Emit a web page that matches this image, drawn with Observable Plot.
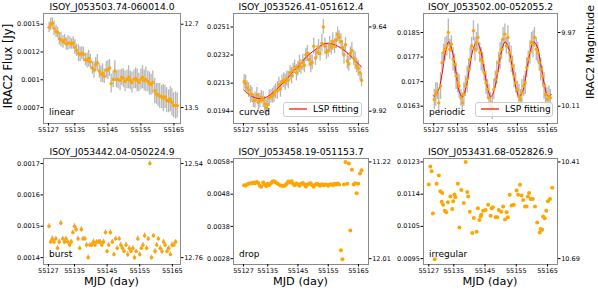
<!DOCTYPE html>
<html><head><meta charset="utf-8">
<script src="https://cdn.jsdelivr.net/npm/d3@7"></script>
<script src="https://cdn.jsdelivr.net/npm/@observablehq/plot@0.6"></script>
<style>
body{margin:0;background:#fff;}
#chart{position:relative;width:598px;height:293px;overflow:hidden;background:#fff;font-family:"DejaVu Sans",sans-serif;}
.cell{position:absolute;}
.lbl{position:absolute;white-space:nowrap;color:#000;font-family:"DejaVu Sans",sans-serif;line-height:1;}
.legend{position:absolute;box-sizing:border-box;border:1px solid #cccccc;border-radius:3px;background:rgba(255,255,255,0.8);font-family:"DejaVu Sans",sans-serif;font-size:9px;color:#000;display:flex;align-items:center;}
</style>
</head><body><div id="chart"></div>
<script>
// ---------- shared values ----------
const titles = ["ISOY_J053503.74-060014.0","ISOY_J053526.41-051612.4","ISOY_J053502.00-052055.2",
                "ISOY_J053442.04-050224.9","ISOY_J053458.19-051153.7","ISOY_J053431.68-052826.9"];
const classes = ["linear","curved","periodic","burst","drop","irregular"];
const xTicks = [55127, 55135, 55145, 55155, 55165];
const fluxTicks = [
  [0.0015, 0.0012333, 0.0009667, 0.0007],
  [0.0251, 0.0232, 0.0213, 0.0194],
  [0.0185, 0.0177667, 0.0170333, 0.0163],
  [0.0017, 0.0016, 0.0015, 0.0014],
  [0.0058, 0.0048, 0.0038, 0.0028],
  [0.0123, 0.0113667, 0.0104333, 0.0095]
];
const fluxTickLabels = [
  ["0.0015","0.0012","0.001","0.0007"],
  ["0.0251","0.0232","0.0213","0.0194"],
  ["0.0185","0.0177","0.017","0.0163"],
  ["0.0017","0.0016","0.0015","0.0014"],
  ["0.0058","0.0048","0.0038","0.0028"],
  ["0.0123","0.0114","0.0105","0.0095"]
];
const magTickLabels = [["12.7","13.5"],["9.64","9.92"],["9.97","10.11"],["12.54","12.76"],["11.22","12.01"],["10.41","10.69"]];
const xDomains = [[55125.5,55167.0],[55123.7,55168.3],[55123.6,55168.4],[55125.5,55167.5],[55123.7,55168.3],[55125.3,55168.2]];
const yDomains = [[0.000546,0.001603],[0.01857,0.02601],[0.015784,0.019067],[0.001378,0.001716],[0.002619,0.005906],[0.00933,0.0124]];

// ---------- observation epochs (MJD) ----------
const mjd = [
55127.2,55127.7,55128.2,55128.7,55129.3,55129.8,55130.3,55130.8,55131.4,55131.9,
55132.4,55132.9,55133.5,55134.0,55134.5,55135.0,55135.5,55136.1,55136.6,55137.1,
55137.6,55138.2,55138.7,55139.2,55139.7,55140.3,55140.8,55141.3,55141.8,55142.4,
55142.9,55143.4,55143.9,55144.5,55145.0,55145.5,55146.0,55146.6,55147.1,55147.6,
55148.1,55148.7,55149.2,55149.7,55150.2,55150.8,55151.3,55151.8,55152.3,55152.9,
55153.4,55153.9,55154.4,55155.0,55155.5,55156.0,55156.5,55157.1,55157.6,55158.1,
55158.6,55159.2,55159.7,55160.2,55160.7,55161.3,55161.8,55162.3,55162.8,55163.4,
55163.9,55164.4,55164.9,55165.5,55166.0];

// ---------- panel 1: linear ----------
const flux1 = [
0.00147,0.00150,0.00151,0.00146,0.00143,0.00142,0.00136,0.00135,0.00133,0.00135,
0.00131,0.00132,0.00132,0.00131,0.00132,0.00128,0.00125,0.00122,0.00121,0.00122,
0.00121,0.00116,0.00115,0.00117,0.00114,0.00108,0.00106,0.00111,0.00113,0.00105,
0.00102,0.00103,0.00100,0.00106,0.00106,0.00108,0.00093,0.00097,0.00105,0.00097,
0.00097,0.00096,0.00099,0.00098,0.00095,0.00097,0.00099,0.00096,0.00094,0.00097,
0.00098,0.00096,0.00094,0.00097,0.00099,0.00096,0.00097,0.00095,0.00093,0.00092,
0.00094,0.00086,0.00083,0.00082,0.00081,0.00080,0.00079,0.00080,0.00077,0.00076,
0.00078,0.00075,0.00072,0.00072,0.00072];
const err1 = [
0.00005,0.00006,0.00005,0.00007,0.00006,0.00005,0.00006,0.00007,0.00006,0.00005,
0.00006,0.00007,0.00006,0.00005,0.00006,0.00007,0.00006,0.00008,0.00007,0.00006,
0.00007,0.00006,0.00007,0.00008,0.00007,0.00006,0.00008,0.00007,0.00008,0.00007,
0.00008,0.00009,0.00007,0.00008,0.00009,0.00008,0.00009,0.00008,0.00010,0.00008,
0.00009,0.00010,0.00008,0.00009,0.00010,0.00009,0.00011,0.00009,0.00010,0.00009,
0.00010,0.00011,0.00009,0.00010,0.00011,0.00010,0.00012,0.00010,0.00011,0.00010,
0.00011,0.00012,0.00010,0.00011,0.00012,0.00011,0.00013,0.00011,0.00012,0.00011,
0.00012,0.00013,0.00012,0.00013,0.00012];

// ---------- panel 2: curved ----------
const flux2 = [
0.02139,0.02128,0.02100,0.02083,0.02055,0.02053,0.02010,0.02015,0.02050,0.02000,
0.02012,0.02035,0.02018,0.01990,0.01965,0.01985,0.02030,0.02040,0.02045,0.02055,
0.02075,0.02080,0.02120,0.02090,0.02140,0.02150,0.02135,0.02160,0.02150,0.02200,
0.02180,0.02215,0.02240,0.02200,0.02230,0.02260,0.02240,0.02270,0.02250,0.02320,
0.02330,0.02290,0.02260,0.02270,0.02380,0.02300,0.02340,0.02370,0.02330,0.02400,
0.02510,0.02380,0.02340,0.02350,0.02390,0.02370,0.02410,0.02380,0.02420,0.02460,
0.02440,0.02410,0.02370,0.02320,0.02390,0.02280,0.02260,0.02330,0.02350,0.02300,
0.02280,0.02250,0.02230,0.02200,0.02150];
const err2 = [
0.00050,0.00055,0.00045,0.00050,0.00060,0.00050,0.00045,0.00055,0.00050,0.00060,
0.00050,0.00045,0.00055,0.00050,0.00060,0.00050,0.00055,0.00045,0.00050,0.00055,
0.00050,0.00060,0.00050,0.00055,0.00045,0.00050,0.00055,0.00050,0.00060,0.00050,
0.00055,0.00050,0.00045,0.00055,0.00050,0.00060,0.00050,0.00055,0.00050,0.00045,
0.00055,0.00050,0.00060,0.00050,0.00055,0.00050,0.00045,0.00055,0.00050,0.00060,
0.00050,0.00055,0.00050,0.00045,0.00055,0.00050,0.00060,0.00050,0.00055,0.00050,
0.00045,0.00055,0.00050,0.00060,0.00050,0.00055,0.00050,0.00045,0.00055,0.00050,
0.00060,0.00050,0.00055,0.00050,0.00045];
const fitX2 = [55127,55129,55131,55133,55135,55137,55139,55141,55143,55145,55147,55149,55151,55153,55155,55157,55159,55161,55163,55165,55166];
const fitY2 = [0.02085,0.02050,0.02030,0.02025,0.02040,0.02070,0.02110,0.02150,0.02200,0.02240,0.02290,0.02330,0.02360,0.02390,0.02400,0.02390,0.02370,0.02340,0.02300,0.02260,0.02240];

// ---------- panel 3: periodic ----------
const flux3 = [
0.01650,0.01665,0.01675,0.01640,0.01690,0.01760,0.01790,0.01800,0.01810,0.01850,
0.01800,0.01815,0.01770,0.01755,0.01720,0.01700,0.01690,0.01655,0.01640,0.01665,
0.01690,0.01710,0.01740,0.01770,0.01810,0.01855,0.01800,0.01820,0.01835,0.01790,
0.01770,0.01760,0.01730,0.01700,0.01680,0.01655,0.01640,0.01625,0.01680,0.01710,
0.01730,0.01760,0.01780,0.01800,0.01830,0.01845,0.01810,0.01835,0.01790,0.01770,
0.01750,0.01720,0.01700,0.01680,0.01660,0.01650,0.01670,0.01690,0.01700,0.01745,
0.01770,0.01790,0.01820,0.01815,0.01835,0.01800,0.01790,0.01760,0.01740,0.01720,
0.01690,0.01665,0.01650,0.01660,0.01655];
const err3 = [
0.00030,0.00035,0.00025,0.00030,0.00040,0.00030,0.00025,0.00035,0.00030,0.00040,
0.00030,0.00025,0.00035,0.00030,0.00040,0.00030,0.00035,0.00025,0.00030,0.00035,
0.00030,0.00040,0.00030,0.00035,0.00025,0.00030,0.00035,0.00030,0.00040,0.00030,
0.00035,0.00030,0.00025,0.00035,0.00030,0.00040,0.00030,0.00035,0.00030,0.00025,
0.00035,0.00030,0.00040,0.00030,0.00035,0.00030,0.00025,0.00035,0.00030,0.00040,
0.00030,0.00035,0.00030,0.00025,0.00035,0.00030,0.00040,0.00030,0.00035,0.00030,
0.00025,0.00035,0.00030,0.00040,0.00030,0.00035,0.00030,0.00025,0.00035,0.00030,
0.00040,0.00030,0.00035,0.00030,0.00025];
const fitX3 = [55126.8,55127.3,55128.5,55129.7,55130.9,55132.0,55133.2,55134.4,55135.5,55136.6,55137.8,55139.0,55140.2,55141.4,55142.6,55143.8,55145.0,55146.1,55147.3,55148.5,55149.7,55150.9,55152.0,55153.2,55154.4,55155.6,55156.8,55158.0,55159.2,55160.4,55161.6,55162.8,55164.0,55165.2,55166.4];
const fitY3 = [0.01662,0.01660,0.01675,0.01720,0.01790,0.01822,0.01795,0.01735,0.01675,0.01658,0.01685,0.01745,0.01800,0.01822,0.01800,0.01745,0.01685,0.01658,0.01680,0.01735,0.01795,0.01822,0.01805,0.01750,0.01690,0.01658,0.01675,0.01730,0.01790,0.01822,0.01808,0.01755,0.01695,0.01660,0.01665];

// ---------- panel 4: burst ----------
const flux4 = [
0.00150,0.00145,0.00146,0.00145,0.00146,0.00143,0.00145,0.00151,0.00146,0.00145,
0.00146,0.00145,0.00144,0.00145,0.00148,0.00150,0.00149,0.00146,0.00143,0.00149,
0.00146,0.00146,0.00144,0.00140,0.00144,0.00144,0.00145,0.00144,0.00145,0.00145,
0.00145,0.00144,0.00145,0.00148,0.00142,0.00144,0.00148,0.00145,0.00141,0.00146,
0.00143,0.00146,0.00144,0.00143,0.00142,0.00144,0.00141,0.00143,0.00142,0.00143,
0.00140,0.00142,0.00146,0.00141,0.00143,0.00144,0.00147,0.00143,0.00146,0.00170,
0.00140,0.00147,0.00142,0.00144,0.00146,0.00143,0.00142,0.00145,0.00144,0.00142,
0.00143,0.00141,0.00144,0.00144,0.00145];
const err4 = [
0.000008,0.000007,0.000009,0.000008,0.000007,0.000008,0.000009,0.000008,0.000007,0.000008,
0.000008,0.000007,0.000009,0.000008,0.000007,0.000008,0.000009,0.000008,0.000007,0.000008,
0.000008,0.000007,0.000009,0.000008,0.000007,0.000008,0.000009,0.000008,0.000007,0.000008,
0.000008,0.000007,0.000009,0.000008,0.000007,0.000008,0.000009,0.000008,0.000007,0.000008,
0.000008,0.000007,0.000009,0.000008,0.000007,0.000008,0.000009,0.000008,0.000007,0.000008,
0.000008,0.000007,0.000009,0.000008,0.000007,0.000008,0.000009,0.000008,0.000007,0.000008,
0.000008,0.000007,0.000009,0.000008,0.000007,0.000008,0.000009,0.000008,0.000007,0.000008,
0.000008,0.000007,0.000009,0.000008,0.000007];

// ---------- panel 5: drop ----------
const flux5 = [
0.00508,0.00506,0.00510,0.00512,0.00514,0.00513,0.00516,0.00514,0.00518,0.00515,
0.00506,0.00503,0.00516,0.00510,0.00505,0.00512,0.00508,0.00514,0.00519,0.00520,
0.00517,0.00513,0.00510,0.00507,0.00506,0.00505,0.00508,0.00512,0.00519,0.00516,
0.00520,0.00512,0.00508,0.00513,0.00510,0.00506,0.00512,0.00515,0.00510,0.00504,
0.00510,0.00512,0.00514,0.00508,0.00503,0.00510,0.00512,0.00509,0.00506,0.00511,
0.00508,0.00510,0.00509,0.00506,0.00510,0.00511,0.00508,0.00512,0.00510,0.00513,
0.00510,0.00306,0.00278,0.00510,0.00580,0.00512,0.00575,0.00367,0.00556,0.00510,
0.00514,0.00483,0.00512,0.00544,0.00554];

// ---------- panel 6: irregular ----------
const mjd6 = [
55127.0,55127.5,55127.9,55128.3,55128.9,55129.5,55130.2,55130.7,55131.1,55131.3,
55131.6,55132.1,55132.6,55133.1,55133.9,55134.5,55134.8,55135.2,55135.5,55136.3,
55136.8,55137.4,55138.2,55138.8,55139.3,55139.6,55140.1,55140.9,55141.4,55142.3,
55142.7,55143.2,55143.6,55143.8,55144.4,55145.2,55146.0,55146.8,55147.1,55147.5,
55148.4,55148.9,55149.4,55150.2,55150.8,55151.4,55151.9,55152.3,55152.9,55153.5,
55154.2,55155.1,55155.6,55156.2,55156.7,55157.2,55157.8,55158.3,55158.7,55159.1,
55159.6,55160.3,55161.0,55161.7,55162.5,55162.8,55163.3,55163.6,55164.1,55164.6,
55165.1,55165.8,55166.5];
const flux6 = [
0.01165,0.01217,0.01203,0.01081,0.00948,0.01167,0.01191,0.01145,0.01115,0.01140,
0.01106,0.01089,0.01084,0.01113,0.01130,0.01094,0.01116,0.01136,0.01128,0.01167,
0.01040,0.01149,0.01111,0.01230,0.01143,0.01130,0.01086,0.01024,0.01068,0.01028,
0.01096,0.01062,0.01072,0.01077,0.01089,0.01091,0.01106,0.01074,0.01096,0.01099,
0.01070,0.01070,0.01091,0.01086,0.01101,0.01063,0.01084,0.01070,0.01135,0.01104,
0.01106,0.01147,0.01135,0.01164,0.01133,0.01120,0.01101,0.01101,0.01130,0.01140,
0.01123,0.01123,0.01101,0.01055,0.01026,0.01036,0.01034,0.01072,0.01067,0.01089,
0.01116,0.01123,0.01155];

const legendLabel = "LSP fitting";

// ---------- build panels ----------
const panels = [
  {x: mjd,  y: flux1, e: err1, r: 1.7},
  {x: mjd,  y: flux2, e: err2, r: 1.7, fx: fitX2, fy: fitY2},
  {x: mjd,  y: flux3, e: err3, r: 1.7, fx: fitX3, fy: fitY3},
  {x: mjd,  y: flux4, e: err4, r: 1.8},
  {x: mjd,  y: flux5, r: 2.0},
  {x: mjd6, y: flux6, r: 2.0}
];
// layout: cell position and margins (frame placement)
const cells = [
  {left:0,   top:0,   w:200, h:146, ml:43, mr:20, mt:13, mb:23},
  {left:195, top:0,   w:200, h:146, ml:38, mr:27, mt:13, mb:23},
  {left:390, top:0,   w:208, h:146, ml:33, mr:41, mt:13, mb:23},
  {left:0,   top:140, w:200, h:153, ml:43, mr:20, mt:18, mb:29},
  {left:195, top:140, w:200, h:153, ml:38, mr:27, mt:18, mb:29},
  {left:390, top:140, w:208, h:153, ml:33, mr:41, mt:18, mb:29}
];

const chart = document.getElementById("chart");
const hasAxis = typeof Plot.axisY === "function";

panels.forEach((P, k) => {
  const c = cells[k];
  const data = P.x.map((x, j) => ({x, y: P.y[j], e: P.e ? P.e[j] : 0}));
  const lab = new Map(fluxTicks[k].map((t, j) => [t, fluxTickLabels[k][j]]));
  const rt = [fluxTicks[k][0], fluxTicks[k][3]];
  const rlab = new Map(rt.map((t, j) => [t, magTickLabels[k][j]]));
  const marks = [];
  if (P.e) marks.push(Plot.ruleX(data, {x: "x", y1: d => d.y - d.e, y2: d => d.y + d.e, stroke: "#7a7a7a", strokeOpacity: 0.55, strokeWidth: 1.3}));
  if (P.fx) marks.push(Plot.line(P.fx.map((x, j) => ({x, y: P.fy[j]})), {x: "x", y: "y", stroke: "#ff0000", strokeWidth: 1, curve: "catmull-rom"}));
  marks.push(Plot.dot(data, {x: "x", y: "y", r: P.r, fill: "#ffa500", stroke: "none"}));
  marks.push(Plot.frame({stroke: "#8a8a8a", strokeWidth: 1}));
  const axOpt = {tickSize: 2.5, tickPadding: 1.2, label: null, stroke: "#000"};
  if (hasAxis) {
    marks.push(Plot.axisX(xTicks, {...axOpt, tickFormat: d => String(d)}));
    marks.push(Plot.axisY(fluxTicks[k], {...axOpt, anchor: "left", tickFormat: d => lab.get(d)}));
    marks.push(Plot.axisY(rt, {...axOpt, anchor: "right", tickFormat: d => rlab.get(d)}));
  }
  marks.push(Plot.text([titles[k]], {frameAnchor: "top", dy: -6.5, lineAnchor: "middle", fontSize: 9.2, text: d => d}));
  marks.push(Plot.text([classes[k]], {frameAnchor: "bottom-left", dx: 5.5, dy: k < 3 ? -11.5 : -10, textAnchor: "start", lineAnchor: "middle", fontSize: 9, text: d => d}));
  const svg = Plot.plot({
    width: c.w, height: c.h,
    marginLeft: c.ml, marginRight: c.mr, marginTop: c.mt, marginBottom: c.mb,
    x: {domain: xDomains[k], ticks: xTicks, tickFormat: d => String(d), label: null, tickSize: 2.5},
    y: {domain: yDomains[k], ticks: fluxTicks[k], tickFormat: d => lab.get(d), label: null, tickSize: 2.5},
    style: {background: "transparent", overflow: "visible", fontFamily: "DejaVu Sans, sans-serif", fontSize: "6.5px", color: "#000"},
    marks
  });
  const wrap = document.createElement("div");
  wrap.className = "cell";
  wrap.style.left = c.left + "px"; wrap.style.top = c.top + "px";
  wrap.appendChild(svg);
  chart.appendChild(wrap);
});

// legends (panels 2 and 3)
const legendBoxes = [{left:283, top:101.5, w:79, h:15.5}, {left:475, top:101.5, w:78, h:15.5}];
legendBoxes.forEach(b => {
  const d = document.createElement("div");
  d.className = "legend";
  Object.assign(d.style, {left: b.left + "px", top: b.top + "px", width: b.w + "px", height: b.h + "px"});
  d.innerHTML = `<svg width="26" height="6" style="margin-left:3px;flex:none"><line x1="2" x2="20" y1="3" y2="3" stroke="#ff0000" stroke-width="1.2"/></svg><span>${legendLabel}</span>`;
  chart.appendChild(d);
});

// global labels
function addLabel(text, x, y, size, rot) {
  const s = document.createElement("div");
  s.className = "lbl";
  s.textContent = text;
  s.style.fontSize = size + "px";
  s.style.left = x + "px"; s.style.top = y + "px";
  s.style.transform = `translate(-50%,-50%)` + (rot ? ` rotate(${rot}deg)` : "");
  chart.appendChild(s);
}
addLabel("IRAC2 Flux [Jy]", 8.5, 66, 11.5, -90);
addLabel("IRAC2 Magnitude", 589.5, 52, 11, -90);
addLabel("MJD (day)", 111.5, 281.5, 11.3, 0);
addLabel("MJD (day)", 300.5, 281.5, 11.3, 0);
addLabel("MJD (day)", 490, 281.5, 11.3, 0);
if (!hasAxis) addLabel("no axis marks", 300, 140, 10, 0);
</script></body></html>
